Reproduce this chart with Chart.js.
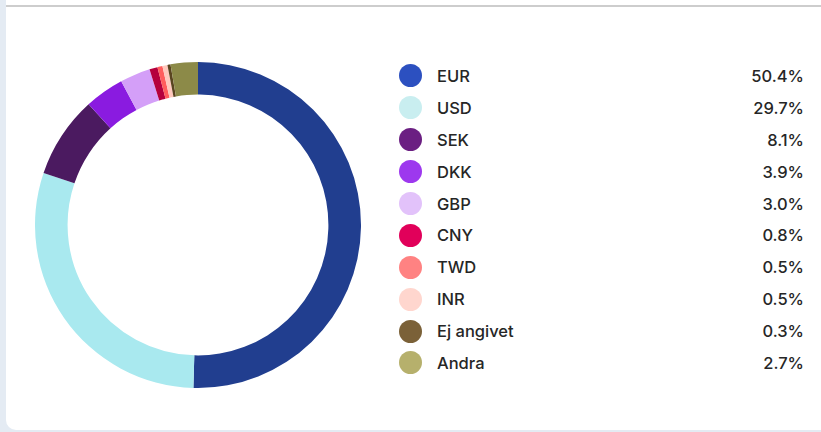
<!DOCTYPE html>
<html>
<head>
<meta charset="utf-8">
<script src="https://cdn.jsdelivr.net/npm/chart.js@4.4.1/dist/chart.umd.min.js"></script>
<style>
  html, body { margin: 0; padding: 0; }
  body { width: 821px; height: 432px; background: #e4ebf3; position: relative; overflow: hidden; font-family: Inter, "Noto Sans", sans-serif; }
  .card { position: absolute; left: 6px; top: 0; right: 0; height: 430px; background: #fff; border-bottom-left-radius: 10px; }
  .topline { position: absolute; left: 6px; right: 0; top: 5px; height: 2px; background: #cdcdcd; }
  .donut { position: absolute; left: 35px; top: 62px; width: 326px; height: 326px; }
  .legend { position: absolute; left: 399px; top: 60px; width: 405px; }
  .row { display: flex; align-items: center; height: 31.9px; font-size: 16.5px; font-weight: 500; color: #262626; }
  .dot { width: 23px; height: 23px; border-radius: 50%; margin-right: 15px; flex: none; }
  .lbl { flex: 1; }
  .pct { text-align: right; }
</style>
</head>
<body>
<div class="card"></div>
<div class="topline"></div>
<div class="donut"><canvas id="chart"></canvas></div>
<div class="legend" id="legend"></div>
<script>
const currencies = ['EUR', 'USD', 'SEK', 'DKK', 'GBP', 'CNY', 'TWD', 'INR', 'Ej angivet', 'Andra'];
const shares = [50.4, 29.7, 8.1, 3.9, 3.0, 0.8, 0.5, 0.5, 0.3, 2.7];
const sliceColors = ['#213e8f', '#a9e9ef', '#4b1a60', '#8a1be0', '#d49ff8', '#b5003d', '#ff5d5d', '#ffc8bd', '#5a4520', '#8c8a48'];
const dotColors = ['#2c50c0', '#c9eef0', '#6b1f82', '#9d38ee', '#e2c2fa', '#e1005a', '#ff8282', '#ffd6ce', '#7b6138', '#b6b06c'];

function pct(v) {
  return v.toFixed(1) + '%';
}

new Chart(document.getElementById('chart'), {
  type: 'doughnut',
  data: {
    labels: currencies,
    datasets: [{ data: shares, backgroundColor: sliceColors, borderWidth: 0, hoverOffset: 0 }]
  },
  options: {
    responsive: true,
    maintainAspectRatio: false,
    animation: false,
    cutout: '80%',
    layout: { padding: 0 },
    plugins: { legend: { display: false }, tooltip: { enabled: false } }
  }
});

const legend = document.getElementById('legend');
legend.innerHTML = currencies.map((c, i) =>
  '<div class="row"><span class="dot" style="background:' + dotColors[i] + '"></span>' +
  '<span class="lbl">' + c + '</span><span class="pct">' + pct(shares[i]) + '</span></div>'
).join('');
</script>
</body>
</html>
